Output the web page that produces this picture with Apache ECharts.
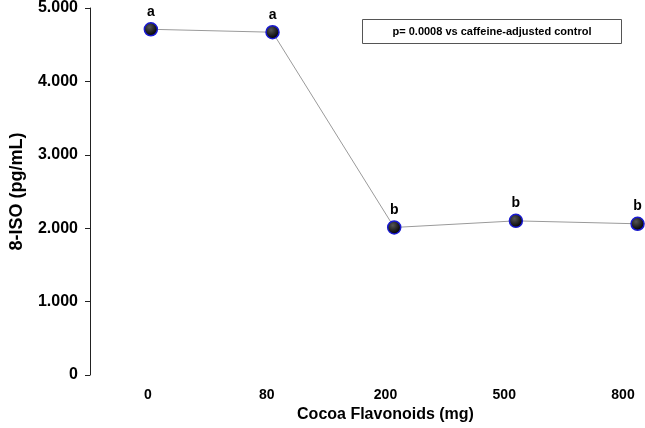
<!DOCTYPE html>
<html>
<head>
<meta charset="utf-8">
<script src="https://cdn.jsdelivr.net/npm/echarts@6/dist/echarts.min.js"></script>
<style>html,body{margin:0;padding:0;background:#fff}#c{width:645px;height:428px}</style>
</head>
<body>
<div id="c"></div>
<script>
var categories = ['0', '80', '200', '500', '800'];
var values = [4.71, 4.67, 2.01, 2.10, 2.06];
var letters = ['a', 'a', 'b', 'b', 'b'];
var yTicks = [0, 1, 2, 3, 4, 5];
var note = 'p= 0.0008 vs caffeine-adjusted control';

var chart = echarts.init(document.getElementById('c'));
var seriesData = values.map(function (v, i) { return [i, v]; });
var font = 'Liberation Sans, Arial, sans-serif';

chart.setOption({
  animation: false,
  grid: [
    { left: 90, right: 5, top: 7, bottom: 53 },
    { left: 148, right: 22, top: 7, bottom: 53 }
  ],
  xAxis: [
    { type: 'value', gridIndex: 0, min: -0.5, max: 4.02, show: false },
    {
      type: 'category', gridIndex: 1, data: categories, boundaryGap: false,
      axisLine: { show: false }, axisTick: { show: false }, splitLine: { show: false },
      axisLabel: { color: '#000', fontWeight: 'bold', fontSize: 14, fontFamily: font, margin: 13 },
      name: 'Cocoa Flavonoids (mg)', nameLocation: 'middle', nameGap: 29,
      nameTextStyle: { color: '#000', fontWeight: 'bold', fontSize: 16, fontFamily: font }
    }
  ],
  yAxis: [
    {
      type: 'value', gridIndex: 0, min: yTicks[0], max: yTicks[yTicks.length - 1], interval: 1,
      axisLine: { show: true, onZero: false, lineStyle: { color: '#222', width: 1 } },
      axisTick: { show: true, length: 5, lineStyle: { color: '#222' } },
      splitLine: { show: false },
      axisLabel: {
        color: '#000', fontWeight: 'bold', fontSize: 16, fontFamily: font, margin: 12,
        formatter: function (v) { return v === 0 ? '0' : v.toFixed(3); }
      },
      name: '8-ISO (pg/mL)', nameLocation: 'middle', nameGap: 64, nameRotate: 90,
      nameTextStyle: { color: '#000', fontWeight: 'bold', fontSize: 18, fontFamily: font }
    },
    { type: 'value', gridIndex: 1, show: false, min: 0, max: 5 }
  ],
  series: [{
    type: 'line', xAxisIndex: 0, yAxisIndex: 0, data: seriesData, clip: false,
    lineStyle: { color: '#9a9a9a', width: 1 },
    symbol: 'circle', symbolSize: 13,
    itemStyle: {
      color: new echarts.graphic.RadialGradient(0.4, 0.35, 0.6, [
        { offset: 0, color: '#555' }, { offset: 1, color: '#000' }
      ]),
      borderColor: '#1a1ad0', borderWidth: 1.5
    },
    label: {
      show: true, position: 'top', distance: 3,
      color: '#000', fontWeight: 'bold', fontSize: 14, fontFamily: font,
      formatter: function (p) { return letters[p.dataIndex]; }
    }
  }],
  graphic: [{
    type: 'group', left: 362, top: 19,
    children: [
      { type: 'rect', shape: { x: 0, y: 0, width: 259, height: 24 },
        style: { fill: '#fff', stroke: '#555', lineWidth: 1 } },
      { type: 'text', x: 129.5, y: 12,
        style: { text: note, fill: '#000', font: 'bold 11px ' + font, textAlign: 'center', textVerticalAlign: 'middle' } }
    ]
  }]
});
</script>
</body>
</html>
